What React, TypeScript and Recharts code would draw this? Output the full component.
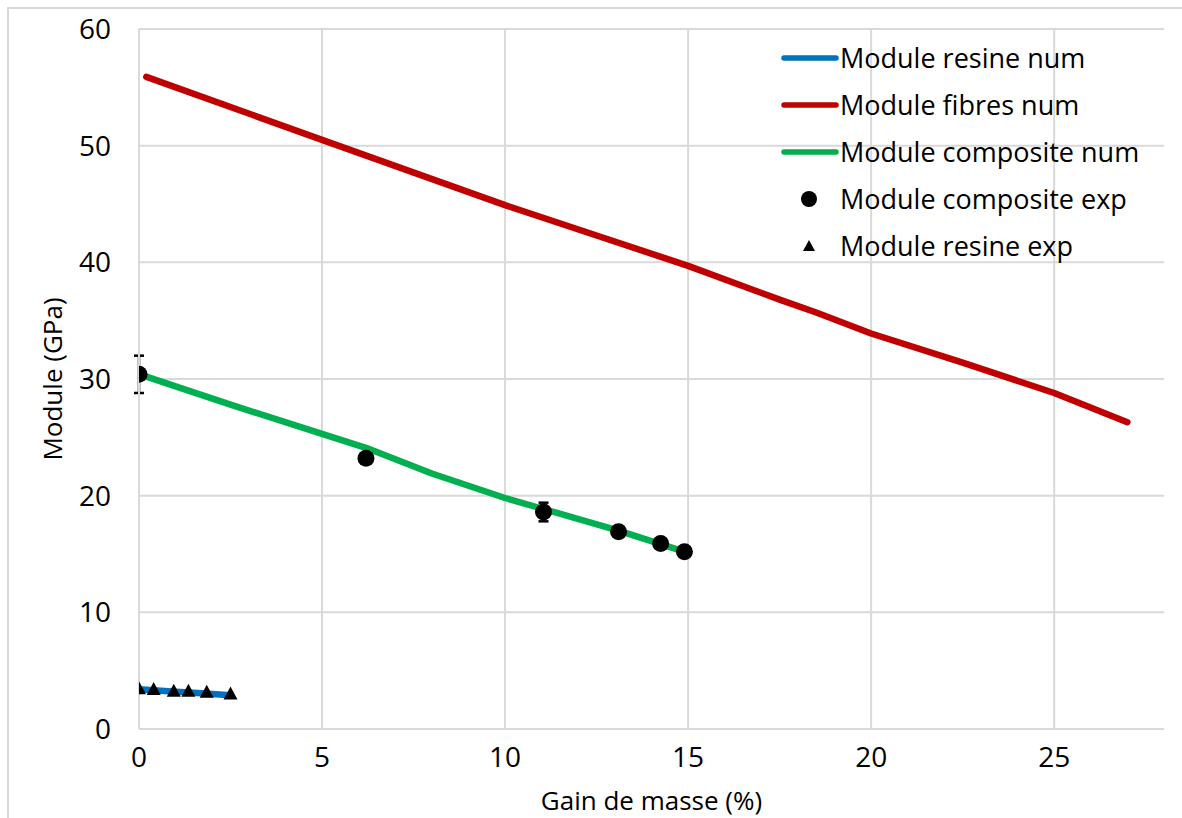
import React from 'react';
import {
  ComposedChart,
  Line,
  Scatter,
  XAxis,
  YAxis,
  CartesianGrid,
  ErrorBar,
} from 'recharts';

// Module resine num (blue line)
const resineNumX = [0, 0.5, 1, 1.5, 2, 2.5];
const resineNumY = [3.4, 3.3, 3.2, 3.1, 3.0, 2.9];
// Module fibres num (red line)
const fibresNumX = [0.2, 5, 10, 12.5, 15, 17.5, 18.5, 20, 22.5, 25, 27];
const fibresNumY = [55.9, 50.5, 44.9, 42.3, 39.7, 36.8, 35.7, 33.9, 31.4, 28.8, 26.3];
// Module composite num (green line)
const compNumX = [0.2, 2.5, 5, 6.2, 8, 10, 11, 13.1, 15];
const compNumY = [30.2, 27.8, 25.3, 24.1, 21.9, 19.8, 18.9, 17.0, 15.1];
// Module composite exp (black circles with error bars)
const compExpX = [0, 6.2, 11.05, 13.1, 14.25, 14.9];
const compExpY = [30.4, 23.2, 18.6, 16.9, 15.9, 15.2];
const compExpErr = [1.6, 0.3, 0.8, 0.4, 0.3, 0.3];
// Module resine exp (black triangles)
const resExpX = [0, 0.4, 0.95, 1.35, 1.85, 2.5];
const resExpY = [3.4, 3.35, 3.2, 3.2, 3.1, 2.95];

const xTicks = [0, 5, 10, 15, 20, 25];
const yTicks = [0, 10, 20, 30, 40, 50, 60];

const zip = (xs: number[], ys: number[]) => xs.map((x, i) => ({ x, y: ys[i] }));
const resineNum = zip(resineNumX, resineNumY);
const fibresNum = zip(fibresNumX, fibresNumY);
const compNum = zip(compNumX, compNumY);
const compExp = compExpX.map((x, i) => ({ x, y: compExpY[i], err: compExpErr[i] }));
const resExp = zip(resExpX, resExpY);

const FONT = '"Open Sans", sans-serif';
const GRID = '#d9d9d9';

const legendItems = [
  { label: 'Module resine num', type: 'line', color: '#0070C0' },
  { label: 'Module fibres num', type: 'line', color: '#C00000' },
  { label: 'Module composite num', type: 'line', color: '#00B050' },
  { label: 'Module composite exp', type: 'circle', color: '#000' },
  { label: 'Module resine exp', type: 'triangle', color: '#000' },
];

const LegendBox = () => (
  <div style={{ position: 'absolute', left: 778, top: 34, fontFamily: FONT, fontSize: 27, color: '#000' }}>
    {legendItems.map((it) => (
      <div key={it.label} style={{ display: 'flex', alignItems: 'center', height: 47 }}>
        <svg width={62} height={20}>
          {it.type === 'line' && (
            <line x1={6} y1={10} x2={58} y2={10} stroke={it.color} strokeWidth={5.5} strokeLinecap="round" />
          )}
          {it.type === 'circle' && <circle cx={31} cy={10} r={8} fill="#000" />}
          {it.type === 'triangle' && <polygon points="31,4 37,15 25,15" fill="#000" />}
        </svg>
        <span style={{ whiteSpace: 'nowrap', lineHeight: '47px' }}>{it.label}</span>
      </div>
    ))}
  </div>
);

const circleShape = (p: any) => <circle cx={p.cx} cy={p.cy} r={8.5} fill="#000" />;
const triangleShape = (p: any) => (
  <polygon
    points={`${p.cx},${p.cy - 8} ${p.cx + 7},${p.cy + 5} ${p.cx - 7},${p.cy + 5}`}
    fill="#000"
  />
);

const XTitle = (props: any) => {
  const { viewBox } = props;
  const cx = viewBox.x + viewBox.width / 2;
  return (
    <text x={cx} y={810} textAnchor="middle" fontFamily={FONT} fontSize={26} fill="#000">
      Gain de masse (%)
    </text>
  );
};

const YTitle = (props: any) => {
  const { viewBox } = props;
  const cy = viewBox.y + viewBox.height / 2;
  const x = 62;
  return (
    <text
      x={x}
      y={cy}
      transform={`rotate(-90 ${x} ${cy})`}
      textAnchor="middle"
      fontFamily={FONT}
      fontSize={26}
      fill="#000"
    >
      Module (GPa)
    </text>
  );
};

export default function App() {
  return (
    <div style={{ position: 'relative', width: 1182, height: 818, overflow: 'hidden', background: '#fff' }}>
      <style>{`html,body{margin:0;padding:0;overflow:hidden;background:#fff}`}</style>
      <div
        style={{
          position: 'absolute',
          left: 7,
          top: 7,
          width: 1300,
          height: 1000,
          borderLeft: `2px solid ${GRID}`,
          borderTop: `2px solid ${GRID}`,
        }}
      />
      <div style={{ position: 'absolute', left: 0, top: 0 }}>
        <ComposedChart width={1182} height={818} margin={{ top: 29, right: 18, bottom: 0, left: 10 }}>
          <CartesianGrid stroke={GRID} strokeWidth={2} horizontalValues={yTicks} verticalValues={xTicks} />
          <XAxis
            type="number"
            dataKey="x"
            domain={[0, 28]}
            ticks={xTicks}
            allowDataOverflow
            height={89}
            axisLine={{ stroke: GRID, strokeWidth: 2 }}
            tickLine={false}
            tickSize={8}
            tickMargin={10}
            tick={{ fontFamily: FONT, fontSize: 28, fill: '#000' }}
            label={<XTitle />}
          />
          <YAxis
            type="number"
            dataKey="y"
            domain={[0, 60]}
            ticks={yTicks}
            width={129}
            axisLine={{ stroke: GRID, strokeWidth: 2 }}
            tickLine={false}
            tickSize={8}
            tickMargin={20}
            tick={{ fontFamily: FONT, fontSize: 28, fill: '#000' }}
            label={<YTitle />}
          />
          <Line data={resineNum} dataKey="y" stroke="#0070C0" strokeWidth={6.5} dot={false} isAnimationActive={false} strokeLinecap="round" strokeLinejoin="round" />
          <Line data={fibresNum} dataKey="y" stroke="#C00000" strokeWidth={6.5} dot={false} isAnimationActive={false} strokeLinecap="round" strokeLinejoin="round" />
          <Line data={compNum} dataKey="y" stroke="#00B050" strokeWidth={6.5} dot={false} isAnimationActive={false} strokeLinecap="round" strokeLinejoin="round" />
          <Scatter data={compExp} dataKey="y" shape={circleShape} isAnimationActive={false}>
            <ErrorBar dataKey="err" direction="y" width={5} stroke="#000" strokeWidth={2.5} />
          </Scatter>
          <Scatter data={resExp} dataKey="y" shape={triangleShape} isAnimationActive={false} />
        </ComposedChart>
      </div>
      <LegendBox />
    </div>
  );
}
